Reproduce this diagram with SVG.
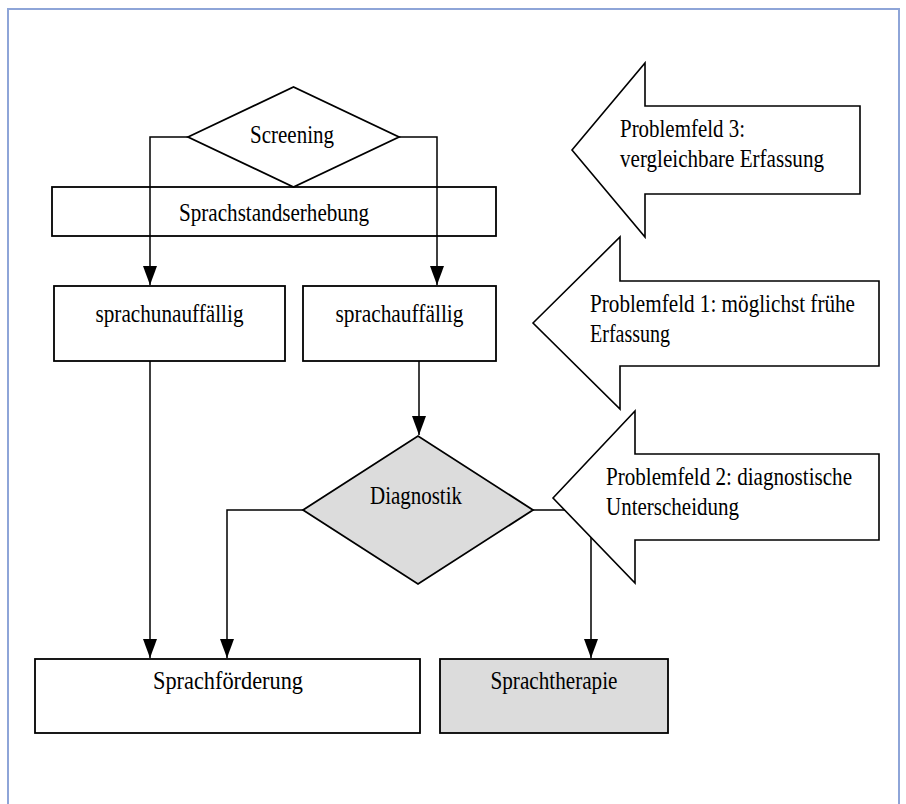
<svg xmlns="http://www.w3.org/2000/svg" width="906" height="804" viewBox="0 0 906 804">
<defs>
<marker id="ah" markerUnits="userSpaceOnUse" markerWidth="19" markerHeight="14" refX="19" refY="7" orient="auto">
<path d="M0,0 L19,7 L0,14 z" fill="#000"/>
</marker>
<style>
.box{fill:#fff;stroke:#000;stroke-width:1.8}
.gray{fill:#dcdcdc;stroke:#000;stroke-width:1.8}
.pf{fill:#fff;stroke:#000;stroke-width:1.6}
.con{fill:none;stroke:#000;stroke-width:1.5}
.arr{marker-end:url(#ah)}
text{font-family:"Liberation Serif","Times New Roman",serif;font-size:26px;fill:#000}
.c{text-anchor:middle}
</style>
</defs>
<rect x="0" y="0" width="906" height="804" fill="#fff"/>
<rect x="8" y="9" width="891" height="820" fill="none" stroke="#8ea5d8" stroke-width="2"/>

<g id="sprachstandserhebung">
<rect class="box" x="52" y="187" width="444" height="49"/>
<text class="c" x="274" y="221" textLength="190" lengthAdjust="spacingAndGlyphs">Sprachstandserhebung</text>
</g>

<g id="screening">
<polygon class="box" points="188,137 293.5,87 399,137 293.5,187"/>
<text class="c" x="292" y="143" textLength="84" lengthAdjust="spacingAndGlyphs">Screening</text>
</g>

<g id="connectors">
<path class="con arr" d="M188,137 H150 V285"/>
<path class="con arr" d="M399,137 H437 V285"/>
<path class="con arr" d="M150,361 V658"/>
<path class="con arr" d="M419,361 V435"/>
<path class="con arr" d="M303,510 H227 V658"/>
<path class="con arr" d="M533,510 H591 V658"/>
</g>

<g id="sprachunauffaellig">
<rect class="box" x="54" y="286" width="231" height="75"/>
<text class="c" x="169.5" y="322" textLength="148" lengthAdjust="spacingAndGlyphs">sprachunauffällig</text>
</g>

<g id="sprachauffaellig">
<rect class="box" x="303" y="286" width="193" height="75"/>
<text class="c" x="399.5" y="322" textLength="128" lengthAdjust="spacingAndGlyphs">sprachauffällig</text>
</g>

<g id="diagnostik">
<polygon class="gray" points="303,510 418,436 533,510 418,584"/>
<text class="c" x="416" y="504" textLength="92" lengthAdjust="spacingAndGlyphs">Diagnostik</text>
</g>

<g id="sprachfoerderung">
<rect class="box" x="35" y="659" width="385" height="74"/>
<text class="c" x="228" y="689" textLength="150" lengthAdjust="spacingAndGlyphs">Sprachförderung</text>
</g>

<g id="sprachtherapie">
<rect class="gray" x="440" y="659" width="228" height="74"/>
<text class="c" x="554" y="689" textLength="127" lengthAdjust="spacingAndGlyphs">Sprachtherapie</text>
</g>

<g id="problemfeld3">
<polygon class="pf" points="572,150 645,63 645,106 860,106 860,194 645,194 645,237"/>
<text x="620" y="137" textLength="125" lengthAdjust="spacingAndGlyphs">Problemfeld 3:</text>
<text x="620" y="167" textLength="204" lengthAdjust="spacingAndGlyphs">vergleichbare Erfassung</text>
</g>

<g id="problemfeld1">
<polygon class="pf" points="533,323 620,237 620,281 879,281 879,366 620,366 620,409"/>
<text x="590" y="312" textLength="265" lengthAdjust="spacingAndGlyphs">Problemfeld 1: möglichst frühe</text>
<text x="590" y="342" textLength="80" lengthAdjust="spacingAndGlyphs">Erfassung</text>
</g>

<g id="problemfeld2">
<polygon class="pf" points="553,498 635,411 635,454 879,454 879,540 635,540 635,583"/>
<text x="606" y="485" textLength="246" lengthAdjust="spacingAndGlyphs">Problemfeld 2: diagnostische</text>
<text x="606" y="515" textLength="133" lengthAdjust="spacingAndGlyphs">Unterscheidung</text>
</g>
</svg>
